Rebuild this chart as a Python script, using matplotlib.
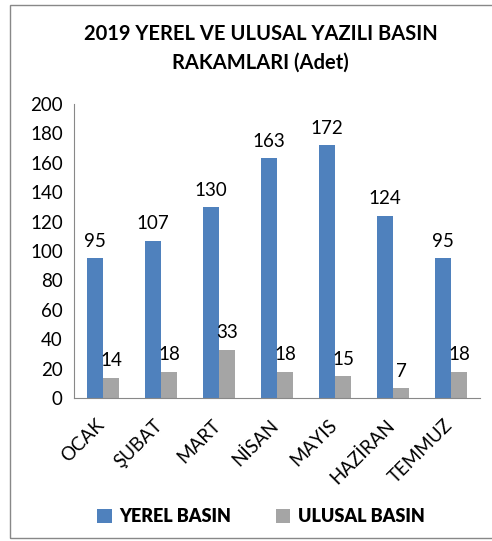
import numpy as np
import matplotlib.pyplot as plt
from matplotlib.patches import Rectangle
from matplotlib.transforms import ScaledTranslation

months = ['OCAK', 'ŞUBAT', 'MART', 'NİSAN', 'MAYIS', 'HAZİRAN', 'TEMMUZ']
yerel = [95, 107, 130, 163, 172, 124, 95]
ulusal = [14, 18, 33, 18, 15, 7, 18]

plt.rcParams['font.family'] = ['Lato', 'DejaVu Sans']

fig = plt.figure(figsize=(4.92, 5.41), dpi=100)
ax = fig.add_axes([0.150, 0.264, 0.826, 0.544])

x = np.arange(len(months))
w = 0.28
b1 = ax.bar(x - w / 2, yerel, w, color='#4f81bd', label='YEREL BASIN')
b2 = ax.bar(x + w / 2, ulusal, w, color='#a5a5a5', label='ULUSAL BASIN')
ax.bar_label(b1, padding=6, fontsize=13.5)
ax.bar_label(b2, padding=6, fontsize=13.5)

ax.set_xlim(-0.5, len(months) - 0.5)
ax.set_ylim(0, 200)
ax.set_yticks(range(0, 201, 20))
ax.set_xticks(x)
ax.set_xticklabels(months, rotation=45, ha='right', rotation_mode='anchor')
ax.tick_params(axis='y', length=0, labelsize=13.5, pad=8)
ax.tick_params(axis='x', length=0, labelsize=13.5, pad=13)
# nudge rotated labels left so they end near the group centre
shift = ScaledTranslation(-7 / 100, 0, fig.dpi_scale_trans)
for lbl in ax.get_xticklabels():
    lbl.set_transform(lbl.get_transform() + shift)
for s in ['top', 'right']:
    ax.spines[s].set_visible(False)
for s in ['left', 'bottom']:
    ax.spines[s].set_color('#888888')

fig.text(0.53, 0.955, '2019 YEREL VE ULUSAL YAZILI BASIN\nRAKAMLARI (Adet)',
         ha='center', va='top', fontsize=14.5, fontweight='bold', linespacing=1.5)

fig.legend(loc='center', bbox_to_anchor=(0.53, 0.045), ncol=2, frameon=False,
           prop={'weight': 'heavy', 'size': 13}, handlelength=0.8, handleheight=0.8,
           columnspacing=2.5, handletextpad=0.4)

fig.patches.append(Rectangle((0.02, 0.005), 1.0, 0.985, transform=fig.transFigure,
                             fill=False, edgecolor='#888888', lw=1))

fig.savefig('out.png')
